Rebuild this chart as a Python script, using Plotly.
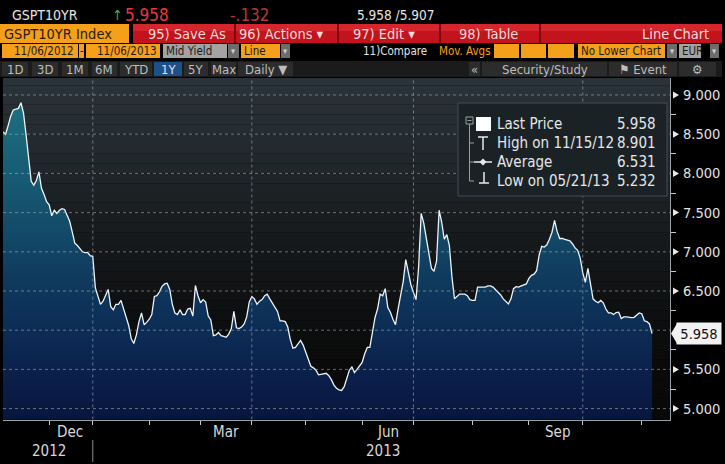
import plotly.graph_objects as go
import pandas as pd

W, H = 725, 464
FONT = "DejaVu Sans Condensed, Liberation Sans Narrow, Arial Narrow, sans-serif"

# ---------------- data ----------------
TICKER = "GSPT10YR"
START, END = "2012-11-06", "2013-11-06"
HOLIDAYS = ["2012-12-24", "2012-12-25", "2012-12-26", "2012-12-31", "2013-01-01",
            "2013-03-29", "2013-04-01", "2013-05-01"]

yields = [
    8.53, 8.50, 8.61, 8.73, 8.81, 8.82, 8.83, 8.901, 8.77, 8.49,
    8.17, 7.90, 7.85, 7.91, 8.02, 7.81, 7.73, 7.64, 7.60, 7.46,
    7.53, 7.49, 7.53, 7.55, 7.54, 7.47, 7.39, 7.25, 7.11, 7.08,
    7.04, 7.00, 6.99, 6.99, 6.95, 6.94, 6.54, 6.42, 6.33, 6.37,
    6.44, 6.52, 6.30, 6.26, 6.33, 6.33, 6.38, 6.28, 6.16, 6.06,
    5.89, 5.83, 5.94, 6.11, 6.22, 6.07, 6.10, 6.14, 6.20, 6.43,
    6.44, 6.49, 6.56, 6.59, 6.60, 6.52, 6.33, 6.22, 6.20, 6.26,
    6.20, 6.20, 6.27, 6.28, 6.18, 6.57, 6.44, 6.35, 6.39, 6.36,
    6.18, 6.13, 5.93, 5.94, 5.97, 5.93, 5.92, 5.91, 5.95, 6.02,
    6.24, 6.03, 6.02, 6.04, 6.08, 6.17, 6.36, 6.43, 6.40, 6.33,
    6.37, 6.39, 6.44, 6.46, 6.40, 6.35, 6.29, 6.24, 6.12, 6.12,
    6.11, 6.04, 5.88, 5.77, 5.78, 5.83, 5.87, 5.81, 5.72, 5.64,
    5.54, 5.52, 5.49, 5.43, 5.44, 5.44, 5.45, 5.42, 5.37, 5.30,
    5.26, 5.24, 5.232, 5.28, 5.39, 5.49, 5.53, 5.46, 5.50, 5.54,
    5.59, 5.70, 5.78, 5.78, 6.00, 6.16, 6.27, 6.46, 6.44, 6.53,
    6.29, 6.23, 6.14, 6.07, 6.27, 6.43, 6.62, 6.90, 6.74, 6.58,
    6.48, 6.39, 6.80, 7.49, 7.37, 7.17, 7.00, 6.79, 6.75, 6.88,
    7.53, 7.38, 7.16, 7.22, 7.08, 6.68, 6.40, 6.43, 6.46, 6.46,
    6.46, 6.44, 6.39, 6.38, 6.38, 6.55, 6.55, 6.555, 6.55, 6.565,
    6.565, 6.55, 6.52, 6.48, 6.45, 6.40, 6.36, 6.335, 6.40, 6.53,
    6.555, 6.55, 6.565, 6.58, 6.59, 6.66, 6.70, 6.715, 6.76, 6.96,
    7.07, 7.06, 7.09, 7.16, 7.25, 7.40, 7.26, 7.17, 7.17, 7.16,
    7.15, 7.14, 7.10, 7.05, 7.02, 6.92, 6.73, 6.61, 6.79, 6.62,
    6.40, 6.37, 6.35, 6.38, 6.35, 6.27, 6.22, 6.22, 6.20, 6.225,
    6.23, 6.15, 6.17, 6.17, 6.165, 6.16, 6.165, 6.19, 6.22, 6.21,
    6.12, 6.11, 6.08, 5.958,
]

LAST_PRICE = 5.958
CHANGE = "-.132"
BID_ASK = "5.958 /5.907"
HIGH_VAL, HIGH_DATE = 8.901, "11/15/12"
AVG_VAL = 6.531
LOW_VAL, LOW_DATE = 5.232, "05/21/13"

Y_TICKS = [5.0, 5.5, 6.0, 6.5, 7.0, 7.5, 8.0, 8.5, 9.0]
Y_MINOR = [5.25, 5.75, 6.25, 6.75, 7.25, 7.75, 8.25, 8.75]
Y_RANGE = [4.861, 9.217]
X_END = "2013-11-15"
MONTH_STARTS = ["2012-12-01", "2013-01-01", "2013-02-01", "2013-03-01", "2013-04-01",
                "2013-05-01", "2013-06-01", "2013-07-01", "2013-08-01", "2013-09-01",
                "2013-10-01", "2013-11-01"]
QUARTER_STARTS = ["2013-01-01", "2013-04-01", "2013-07-01", "2013-10-01"]
MONTH_LABELS = ["Dec", "Mar", "Jun", "Sep"]
MONTH_LABEL_DATES = ["2012-12-12", "2013-03-14", "2013-06-14", "2013-09-16"]
YEAR_LABELS = ["2012", "2013"]
YEAR_LABEL_DATES = ["2012-11-30", "2013-06-12"]

# ---------------- derived ----------------
hol = set(HOLIDAYS)
dates = [d for d in pd.bdate_range(START, END) if d.strftime("%Y-%m-%d") not in hol]
n = min(len(dates), len(yields))
dates, vals = dates[:n], yields[:n]


def boundary(month_start):
    ms = pd.Timestamp(month_start)
    prev = [d for d in dates if d < ms]
    return prev[-1] if prev else dates[0]


tick_dates = [boundary(m) for m in MONTH_STARTS]
quarter_dates = [boundary(m) for m in QUARTER_STARTS]

XD = [3 / W, 670 / W]
YD = [1 - 419.5 / H, 1 - 78 / H]


def px(x):
    return x / W


def py(y):
    return 1 - y / H


def hexrgb(h):
    h = h.lstrip("#")
    return tuple(int(h[i:i + 2], 16) for i in (0, 2, 4))


def interp(stops, v):
    for (v0, c0), (v1, c1) in zip(stops[:-1], stops[1:]):
        if v0 <= v <= v1:
            t = (v - v0) / (v1 - v0)
            a, b = hexrgb(c0), hexrgb(c1)
            return "rgb(%d,%d,%d)" % tuple(round(a[i] + (b[i] - a[i]) * t) for i in range(3))
    return stops[-1][1] if v > stops[-1][0] else stops[0][1]


BG_STOPS = [(4.7, "#080808"), (5.5, "#0a0a0a"), (6.0, "#0c0d0e"), (6.5, "#101213"),
            (7.0, "#15181a"), (7.5, "#1a1e21"), (8.0, "#1f2529"), (8.5, "#252c31"),
            (9.4, "#2c353c")]
FILL_SCALE = [[0.0, "#08163e"], [0.1, "#0a1d48"], [0.25, "#0c2b55"], [0.4, "#0f395d"],
              [0.55, "#134a68"], [0.7, "#175a72"], [0.85, "#1a687c"], [1.0, "#1f7a89"]]

shapes, annotations = [], []

# background bands inside plot
v = 4.75
while v < 9.3:
    shapes.append(dict(type="rect", xref="paper", yref="y", x0=XD[0], x1=XD[1],
                       y0=v, y1=v + 0.125, fillcolor=interp(BG_STOPS, v + 0.06),
                       line=dict(width=0), layer="below"))
    v += 0.125

GRID = dict(color="rgba(165,175,182,0.6)", width=1, dash="3px,3px")
for t in Y_TICKS:
    shapes.append(dict(type="line", xref="paper", yref="y", x0=XD[0], x1=XD[1], y0=t, y1=t,
                       line=GRID, layer="above"))
for q in quarter_dates:
    shapes.append(dict(type="line", xref="x", yref="paper", x0=q, x1=q, y0=YD[0], y1=YD[1],
                       line=GRID, layer="above"))


def rect(x0, y0, x1, y1, fill, line=None, layer="above"):
    shapes.append(dict(type="rect", xref="paper", yref="paper", x0=px(x0), x1=px(x1),
                       y0=py(y1), y1=py(y0), fillcolor=fill,
                       line=line if line else dict(width=0), layer=layer))


def seg(x0, y0, x1, y1, color, width=1):
    shapes.append(dict(type="line", xref="paper", yref="paper", x0=px(x0), x1=px(x1),
                       y0=py(y0), y1=py(y1), line=dict(color=color, width=width), layer="above"))


def text(x, y, s, size, color, anchor="left", font=FONT):
    annotations.append(dict(xref="paper", yref="paper", x=px(x), y=py(y), text=s,
                            showarrow=False, xanchor=anchor, yanchor="middle", borderpad=0,
                            font=dict(family=font, size=size, color=color)))


# ---------- header row 1 ----------
text(11, 15, TICKER, 14, "#e4e4e4")
text(111, 15, "↑", 14, "#35b54a")
text(124, 15, f"{LAST_PRICE:.3f}", 17, "#e8393c")
text(229, 15, CHANGE, 17, "#b3383a")
text(356, 15, BID_ASK, 13.5, "#e6e6e6")

# ---------- header row 2 ----------
ORANGE = "#f5a01a"
rect(0, 24, 129, 43, ORANGE)
text(3, 34, f"{TICKER} Index", 14.5, "#2a1a08")
rect(133, 24, 722, 43, "#c3141d")
rect(133, 24, 722, 31, "#d6262d")
for sx in [235, 338, 440, 540]:
    seg(sx, 24, sx, 43, "#7d0a10", 2)
RED_TXT = "#f4dcdc"
text(147, 34, "95) Save As", 14.5, RED_TXT)
text(238, 34, "96) Actions ▾", 14.5, RED_TXT)
text(352, 34, "97) Edit ▾", 14.5, RED_TXT)
text(458, 34, "98) Table", 14.5, RED_TXT)
text(710, 34, "Line Chart", 14.5, RED_TXT, anchor="right")

# ---------- header row 3 ----------
GRAY = "#a3a3a3"
DD = "#6c6c6c"
rect(2, 44, 78, 58, ORANGE)
rect(79, 44, 84, 58, ORANGE)
rect(86, 44, 160, 58, ORANGE)
rect(163, 44, 227, 58, GRAY)
rect(228, 44, 239, 58, DD)
rect(241, 44, 280, 58, ORANGE)
rect(281, 44, 290, 58, DD)
rect(494, 44, 519, 58, ORANGE)
rect(521, 44, 546, 58, ORANGE)
rect(548, 44, 574, 58, ORANGE)
rect(578, 44, 665, 58, ORANGE)
rect(667, 44, 677, 58, DD)
rect(679, 44, 701, 58, GRAY)
rect(710, 44, 719, 58, DD)
DARK = "#1a1a1a"
R3 = 11.5
text(13, 51, "11/06/2012", R3, DARK)
text(81.5, 51, "-", R3, DARK, anchor="center")
text(96, 51, "11/06/2013", R3, DARK)
text(165, 51, "Mid Yield", R3, DARK)
text(233.5, 51, "▾", 9, "#cfcfcf", anchor="center")
text(243, 51, "Line", R3, DARK)
text(285.5, 51, "▾", 9, "#cfcfcf", anchor="center")
text(362, 51, "11)Compare", R3, "#e2e2e2")
text(438, 51, "Mov. Avgs", R3, ORANGE)
text(580, 51, "No Lower Chart", R3, DARK)
text(672, 51, "▾", 9, "#cfcfcf", anchor="center")
text(681, 51, "EUR", R3, DARK)
text(714.5, 51, "▾", 9, "#cfcfcf", anchor="center")

# ---------- header row 4 (toolbar) ----------
rect(0, 61, 722, 77, "#1b1b1b")
BTN = "#2c2c2c"
buttons = [(2, 28, "1D"), (32, 58, "3D"), (62, 88, "1M"), (92, 117, "6M"), (120, 152, "YTD"),
           (154, 182, "1Y"), (184, 208, "5Y"), (211, 236, "Max"), (238, 293, "Daily ▼"),
           (469, 480, "«"), (482, 607, "Security/Study"), (609, 677, "⚑ Event"), (679, 716, "⚙")]
for x0, x1, lab in buttons:
    rect(x0, 62, x1, 76, "#1d4f88" if lab == "1Y" else BTN)
    text((x0 + x1) / 2, 69, lab, 13, "#d6e4f2" if lab == "1Y" else "#bdbdbd", anchor="center")

# ---------- x-axis labels ----------
for lab, d in zip(MONTH_LABELS, MONTH_LABEL_DATES):
    annotations.append(dict(xref="x", yref="paper", x=d, y=py(432), text=lab, showarrow=False,
                            xanchor="center", yanchor="middle",
                            font=dict(family=FONT, size=15, color="#d8d8d8")))
for lab, d in zip(YEAR_LABELS, YEAR_LABEL_DATES):
    annotations.append(dict(xref="x", yref="paper", x=d, y=py(451), text=lab, showarrow=False,
                            xanchor="center", yanchor="middle",
                            font=dict(family=FONT, size=15, color="#d8d8d8")))
shapes.append(dict(type="line", xref="x", yref="paper", x0=quarter_dates[0], x1=quarter_dates[0],
                   y0=py(462), y1=py(440), line=dict(color="#8c8c8c", width=1), layer="above"))

# ---------- y-axis labels with pointer triangles (the one under the last-price tag is hidden) ----------
for t in Y_TICKS:
    if abs(t - LAST_PRICE) < 0.15:
        continue
    shapes.append(dict(type="path", xref="paper", yref="y", xsizemode="pixel", ysizemode="pixel",
                       xanchor=XD[1], yanchor=t, path="M 3,-3.5 L 9,0 L 3,3.5 Z",
                       fillcolor="#e8e8e8", line=dict(width=0), layer="above"))
    annotations.append(dict(xref="paper", yref="y", x=px(682), y=t, text=f"{t:.3f}",
                            showarrow=False, xanchor="left", yanchor="middle", borderpad=0,
                            font=dict(family=FONT, size=14.5, color="#e2e2e2")))

# ---------- legend box ----------
rect(458, 103, 667, 196, "#1b2226", line=dict(color="#454d52", width=1))
LG = "#9a9ea0"
rect(466, 117, 473, 124, "rgba(0,0,0,0)", line=dict(color=LG, width=1))
seg(467.5, 120.5, 471.5, 120.5, LG)
seg(469.5, 124, 469.5, 181, LG)
for yy in (143, 162, 181):
    seg(469.5, yy, 474, yy, LG)
rect(476, 117, 491, 131, "#ffffff")
seg(483, 137, 483, 150, "#e8e8e8", 1.5)
seg(478, 137, 488, 137, "#e8e8e8", 1.5)
seg(474, 162, 492, 162, "#e8e8e8", 1.5)
shapes.append(dict(type="path", xref="paper", yref="paper",
                   path="M %f,%f L %f,%f L %f,%f L %f,%f Z" % (
                       px(483), py(158.5), px(486.5), py(162), px(483), py(165.5), px(479.5), py(162)),
                   fillcolor="#e8e8e8", line=dict(width=0), layer="above"))
seg(484, 172, 484, 183, "#e8e8e8", 1.5)
seg(479, 183, 489, 183, "#e8e8e8", 1.5)
LT = "#e6e6e6"
rows = [("Last Price", LAST_PRICE, 124), (f"High on {HIGH_DATE}", HIGH_VAL, 143),
        ("Average", AVG_VAL, 162), (f"Low on {LOW_DATE}", LOW_VAL, 181)]
for lab, val, yy in rows:
    text(496, yy, lab, 15, LT)
    text(657, yy, f"{val:.3f}", 15, LT, anchor="right")

# ---------- last price tag ----------
shapes.append(dict(type="path", xref="paper", yref="y", xsizemode="pixel", ysizemode="pixel",
                   xanchor=XD[1], yanchor=LAST_PRICE, path="M 1,0 L 7,10 L 7,-10 Z",
                   fillcolor="#f2f2f2", line=dict(width=0), layer="above"))
annotations.append(dict(xref="paper", yref="y", x=px(676), y=LAST_PRICE,
                        text=f"{LAST_PRICE:.3f}", showarrow=False, xanchor="left",
                        yanchor="middle", bgcolor="#f2f2f2", borderpad=1, width=42, height=19,
                        font=dict(family=FONT, size=14.5, color="#111111")))

# ---------------- figure ----------------
fig = go.Figure()
fig.add_trace(go.Scatter(
    x=dates, y=vals, mode="lines",
    line=dict(color="#eef3f7", width=1.3),
    fill="tozeroy",
    fillgradient=dict(type="vertical", colorscale=FILL_SCALE, start=Y_RANGE[0], stop=Y_RANGE[1]),
    hoverinfo="skip", showlegend=False,
))

fig.update_layout(
    width=W, height=H,
    margin=dict(l=0, r=0, t=0, b=0),
    paper_bgcolor="#000000", plot_bgcolor="#000000",
    showlegend=False,
    shapes=shapes, annotations=annotations,
    xaxis=dict(
        domain=XD, type="date", range=[dates[0], X_END],
        rangebreaks=[dict(bounds=["sat", "mon"]), dict(values=HOLIDAYS)],
        showgrid=False, zeroline=False,
        showline=True, linecolor="#9aa2a8", linewidth=1,
        ticks="outside", ticklen=4, tickcolor="#c8c8c8", tickwidth=1,
        tickmode="array", tickvals=tick_dates, showticklabels=False,
    ),
    yaxis=dict(
        domain=YD, range=Y_RANGE, side="right",
        showgrid=False, zeroline=False,
        showline=True, linecolor="#9aa2a8", linewidth=1,
        ticks="", tickmode="array", tickvals=Y_TICKS, showticklabels=False,
        minor=dict(tickvals=Y_MINOR, ticks="outside", ticklen=5, tickcolor="#c8c8c8",
                   tickwidth=1, showgrid=False),
    ),
)

fig.write_html("out.html", config={"displayModeBar": False},
               post_script="document.body.style.margin='0';document.body.style.overflow='hidden';")
